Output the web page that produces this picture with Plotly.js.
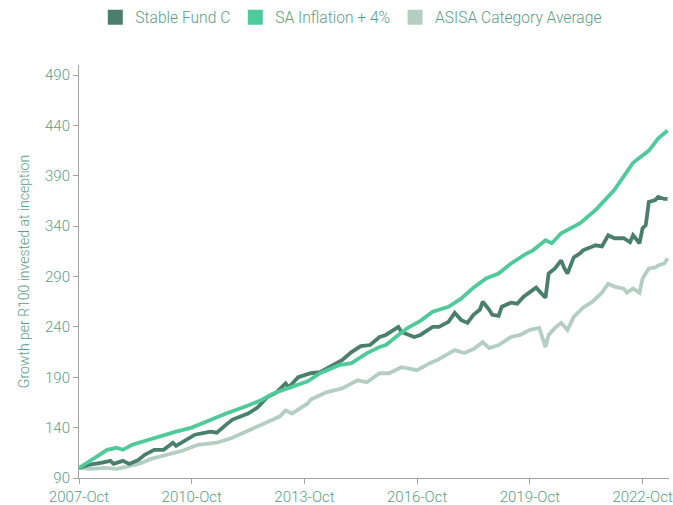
<!DOCTYPE html>
<html>
<head>
<meta charset="utf-8">
<script src="https://cdn.plot.ly/plotly-3.0.1.min.js"></script>
<style>html,body{margin:0;padding:0;background:#fff;}#chart{width:673px;height:505px;}</style>
</head>
<body>
<div id="chart"></div>
<script>
const seriesNames = ["Stable Fund C", "SA Inflation + 4%", "ASISA Category Average"];
const seriesColors = ["#4b7f6d", "#4fca9b", "#b4cec3"];

const fundDates = ["2007-10","2008-01","2008-05","2008-06","2008-08","2008-09","2008-12","2009-02","2009-05","2009-07","2009-10","2010-01","2010-04","2010-05","2010-07","2010-11","2011-04","2011-06","2011-09","2011-11","2012-04","2012-07","2012-10","2013-01","2013-04","2013-05","2013-08","2013-12","2014-03","2014-07","2014-10","2015-01","2015-04","2015-07","2015-10","2015-12","2016-04","2016-05","2016-09","2016-11","2016-12","2017-03","2017-05","2017-08","2017-10","2017-12","2018-02","2018-04","2018-06","2018-07","2018-09","2018-10","2018-12","2019-01","2019-04","2019-06","2019-08","2019-10","2019-12","2020-03","2020-04","2020-06","2020-08","2020-09","2020-10","2020-12","2021-02","2021-03","2021-05","2021-07","2021-09","2021-11","2022-01","2022-04","2022-06","2022-07","2022-09","2022-10","2022-11","2022-12","2023-02","2023-03","2023-05","2023-06"];
const fundValues = [100,103,105,106,107,104,107,104,108,113,118,118,125,122,126,133,136,135,143,148,154,160,170,175,184,180,190,194,195,202,207,215,221,222,230,232,240,235,230,232,234,240,240,245,254,247,244,252,257,265,257,252,251,260,264,263,270,274,279,269,293,298,306,298,293,309,313,316,318,321,320,331,328,328,324,331,323,338,341,364,366,369,367,367];

const inflDates = ["2007-10","2008-01","2008-03","2008-05","2008-07","2008-10","2008-12","2009-03","2009-08","2010-01","2010-05","2010-10","2011-04","2011-09","2012-04","2012-08","2012-12","2013-06","2013-11","2014-03","2014-09","2015-01","2015-06","2015-10","2015-12","2016-04","2016-07","2016-11","2017-03","2017-08","2017-12","2018-04","2018-08","2018-12","2019-04","2019-09","2019-11","2020-01","2020-03","2020-05","2020-08","2021-02","2021-07","2022-01","2022-04","2022-07","2022-12","2023-03","2023-06"];
const inflValues = [100,106,110,113,118,120,118,123,128,133,136,140,148,154,162,167,174,180,186,194,202,204,214,220,222,232,239,246,255,260,268,279,288,293,303,313,316,321,326,323,333,343,356,376,389,403,415,427,435];

const asisaDates = ["2007-10","2008-02","2008-06","2008-10","2009-01","2009-06","2009-09","2010-02","2010-07","2010-12","2011-06","2011-11","2012-05","2012-10","2013-02","2013-04","2013-06","2013-11","2013-12","2014-05","2014-10","2015-03","2015-06","2015-10","2016-01","2016-05","2016-07","2016-10","2017-02","2017-05","2017-10","2018-01","2018-04","2018-07","2018-09","2018-12","2019-04","2019-07","2019-10","2020-01","2020-03","2020-04","2020-06","2020-08","2020-10","2020-12","2021-03","2021-06","2021-09","2021-11","2022-01","2022-04","2022-05","2022-07","2022-09","2022-10","2022-12","2023-02","2023-03","2023-05","2023-06"];
const asisaValues = [100,99,100,99,101,105,109,113,117,123,125,130,138,145,151,157,154,164,168,175,179,187,185,194,194,200,199,197,204,208,217,214,218,225,219,222,230,232,237,239,220,232,239,244,237,250,259,265,274,283,280,278,274,278,274,288,298,299,301,303,308];

const yTickStart = 90, yTickStep = 50;
const xTickStart = "2007-10-01";

const font = "Roboto, 'Open Sans', sans-serif";
const textColor = "#5a9e86";
const axisColor = "#a3a3a3";

const lineData = [
  {x: asisaDates, y: asisaValues, c: seriesColors[2]},
  {x: fundDates, y: fundValues, c: seriesColors[0]},
  {x: inflDates, y: inflValues, c: seriesColors[1]}
];
const traces = lineData.map(d => ({
  type: "scatter", mode: "lines", x: d.x, y: d.y, showlegend: false,
  line: {color: d.c, width: 3.8}, hoverinfo: "x+y"
}));
seriesNames.forEach((n, i) => traces.push({
  type: "scatter", mode: "markers", x: [null], y: [null], name: n,
  marker: {symbol: "square", size: 15, color: seriesColors[i]}
}));

const fnt = (size) => ({family: font, size: size, color: textColor, weight: 300});

const layout = {
  width: 673, height: 505,
  margin: {l: 79, r: 4, t: 65, b: 27},
  paper_bgcolor: "#fff", plot_bgcolor: "#fff",
  font: fnt(15),
  showlegend: true,
  legend: {orientation: "h", xref: "container", yref: "container", x: 0.522, xanchor: "center", y: 0.965, yanchor: "middle",
    font: fnt(15.6), itemclick: false},
  xaxis: {type: "date", range: ["2007-10-01", "2023-06-15"], tick0: xTickStart, dtick: "M36", tickformat: "%Y-%b",
    showline: true, linecolor: axisColor, linewidth: 1, ticks: "outside", ticklen: 5, tickcolor: axisColor,
    showgrid: false, zeroline: false, automargin: false, ticklabeloverflow: "allow", tickfont: fnt(15)},
  yaxis: {range: [90, 500], tick0: yTickStart, dtick: yTickStep,
    showline: true, linecolor: axisColor, linewidth: 1, ticks: "outside", ticklen: 5, tickcolor: axisColor,
    showgrid: false, zeroline: false, automargin: false, tickfont: fnt(15),
    title: {text: "Growth per R100 invested at inception", font: fnt(14), standoff: 12}}
};

Plotly.newPlot("chart", traces, layout, {displayModeBar: false, staticPlot: true});
</script>
</body>
</html>
